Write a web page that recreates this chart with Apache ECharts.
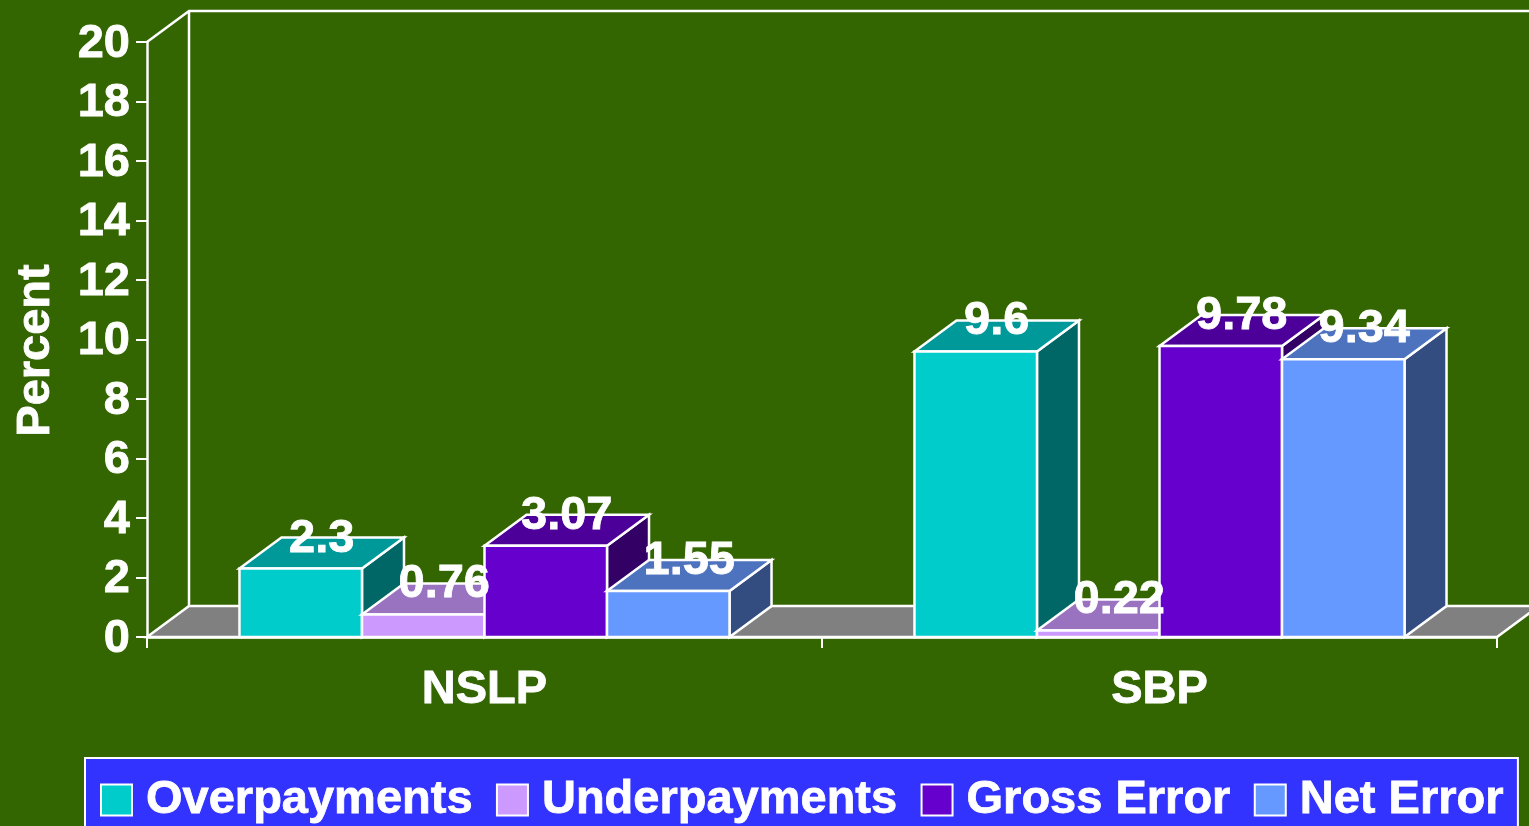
<!DOCTYPE html>
<html>
<head>
<meta charset="utf-8">
<title>NSLP and SBP error rates</title>
<script src="https://cdn.jsdelivr.net/npm/echarts@6/dist/echarts.min.js"></script>
<style>
  html, body { margin: 0; padding: 0; background: #336600; }
  #chart { width: 1529px; height: 826px; }
</style>
</head>
<body>
<div id="chart"></div>
<script>
const categories = ['NSLP', 'SBP']
const overpayments = [2.3, 9.6]
const underpayments = [0.76, 0.22]
const grossError = [3.07, 9.78]
const netError = [1.55, 9.34]

const FONT = '"Liberation Sans", Arial, sans-serif'
const WHITE = '#ffffff'
const FONT_SIZE = 47
// the reference text is a bit heavier than plain bold
const HEAVY = { textBorderColor: WHITE, textBorderWidth: 0.8 }
const LINE = 2.5
// depth of the fake 3d box
const DX = 42
const DY = 31
// part of the category band taken by the four bars
const GROUP_RATIO = 0.726

const chart = echarts.init(document.getElementById('chart'))

// floor and back wall
function renderFloor(params, api) {
  const r = params.coordSys
  const bottom = r.y + r.height
  const right = r.x + r.width
  const lineStyle = { stroke: WHITE, lineWidth: LINE, fill: null }
  return {
    type: 'group',
    children: [
      {
        type: 'polygon',
        shape: { points: [[r.x, bottom], [r.x + DX, bottom - DY], [right + DX, bottom - DY], [right, bottom]] },
        style: { fill: '#808080', stroke: WHITE, lineWidth: LINE },
      },
      {
        type: 'polyline',
        shape: { points: [[r.x, r.y], [r.x + DX, r.y - DY], [right + DX, r.y - DY]] },
        style: lineStyle,
      },
      {
        type: 'line',
        shape: { x1: r.x + DX, y1: r.y - DY, x2: r.x + DX, y2: bottom - DY },
        style: lineStyle,
      },
    ],
  }
}

// one box: front, top and side faces, value on the back edge of the top
function boxRenderer(index, front, top, side) {
  return function (params, api) {
    const value = api.value(1)
    const p = api.coord([api.value(0), value])
    const base = api.coord([api.value(0), 0])
    const band = api.size([1, 0])[0]
    const w = (band * GROUP_RATIO) / 4
    const x = p[0] - 2 * w + index * w
    const y = p[1]
    const border = { stroke: WHITE, lineWidth: LINE }
    return {
      type: 'group',
      children: [
        {
          type: 'polygon',
          z2: index,
          shape: { points: [[x + w, y], [x + w + DX, y - DY], [x + w + DX, base[1] - DY], [x + w, base[1]]] },
          style: { fill: side, ...border },
        },
        {
          type: 'polygon',
          z2: index,
          shape: { points: [[x, y], [x + DX, y - DY], [x + w + DX, y - DY], [x + w, y]] },
          style: { fill: top, ...border },
        },
        {
          type: 'rect',
          z2: index,
          shape: { x: x, y: y, width: w, height: base[1] - y },
          style: { fill: front, ...border },
        },
        {
          type: 'text',
          z2: 100,
          x: x + w / 2 + DX / 2,
          y: y - DY + 1,
          style: {
            text: String(value),
            fill: WHITE,
            stroke: WHITE,
            lineWidth: 0.8,
            font: 'bold ' + FONT_SIZE + 'px ' + FONT,
            align: 'center',
            verticalAlign: 'middle',
          },
        },
      ],
    }
  }
}

function boxSeries(name, values, index, front, top, side) {
  return {
    name: name,
    type: 'custom',
    z: 3,
    renderItem: boxRenderer(index, front, top, side),
    itemStyle: { color: front },
    encode: { x: 0, y: 1 },
    data: values.map((v, i) => [i, v]),
  }
}

const option = {
  backgroundColor: '#336600',
  animation: false,
  textStyle: { fontFamily: FONT },
  grid: { left: 147, top: 42, width: 1350, height: 595, outerBoundsMode: 'none' },
  legend: {
    left: 85,
    top: 758,
    padding: [18, 14, 12, 15],
    itemWidth: 31,
    itemHeight: 31,
    itemGap: 23,
    icon: 'rect',
    backgroundColor: '#3333ff',
    borderColor: WHITE,
    borderWidth: 2,
    itemStyle: { borderColor: WHITE, borderWidth: 2 },
    textStyle: {
      color: WHITE,
      fontFamily: FONT,
      fontWeight: 'bold',
      fontSize: FONT_SIZE,
      padding: [2, 0, 0, 9],
      ...HEAVY,
    },
    data: ['Overpayments', 'Underpayments', 'Gross Error', 'Net Error'],
  },
  xAxis: {
    type: 'category',
    data: categories,
    z: 10,
    axisLine: { lineStyle: { color: WHITE, width: LINE } },
    axisTick: { show: true, length: 11, lineStyle: { color: WHITE, width: 2 } },
    axisLabel: { color: WHITE, fontWeight: 'bold', fontSize: FONT_SIZE, fontFamily: FONT, margin: 30, ...HEAVY },
  },
  yAxis: {
    type: 'value',
    min: 0,
    max: 20,
    interval: 2,
    name: 'Percent',
    nameLocation: 'middle',
    nameGap: 87,
    nameRotate: 90,
    nameTextStyle: {
      color: WHITE,
      fontWeight: 'bold',
      fontSize: FONT_SIZE,
      fontFamily: FONT,
      padding: [0, 22, 0, 0],
      ...HEAVY,
    },
    z: 10,
    axisLine: { show: true, lineStyle: { color: WHITE, width: LINE } },
    axisTick: { show: true, length: 11, lineStyle: { color: WHITE, width: 2 } },
    // small line box hung from the tick, the digits sit just under the tick centre
    axisLabel: {
      color: WHITE,
      fontWeight: 'bold',
      fontSize: FONT_SIZE,
      fontFamily: FONT,
      margin: 17,
      verticalAlign: 'top',
      lineHeight: 4,
      ...HEAVY,
    },
    splitLine: { show: false },
  },
  series: [
    {
      type: 'custom',
      z: 1,
      silent: true,
      renderItem: renderFloor,
      encode: { x: 0, y: 1 },
      data: [[0, 0]],
    },
    boxSeries('Overpayments', overpayments, 0, '#00cccc', '#009999', '#006666'),
    boxSeries('Underpayments', underpayments, 1, '#cc99ff', '#9973bf', '#664d80'),
    boxSeries('Gross Error', grossError, 2, '#6600cc', '#4c0099', '#330066'),
    boxSeries('Net Error', netError, 3, '#6699ff', '#4d73bf', '#334d80'),
  ],
}

chart.setOption(option)
</script>
</body>
</html>
